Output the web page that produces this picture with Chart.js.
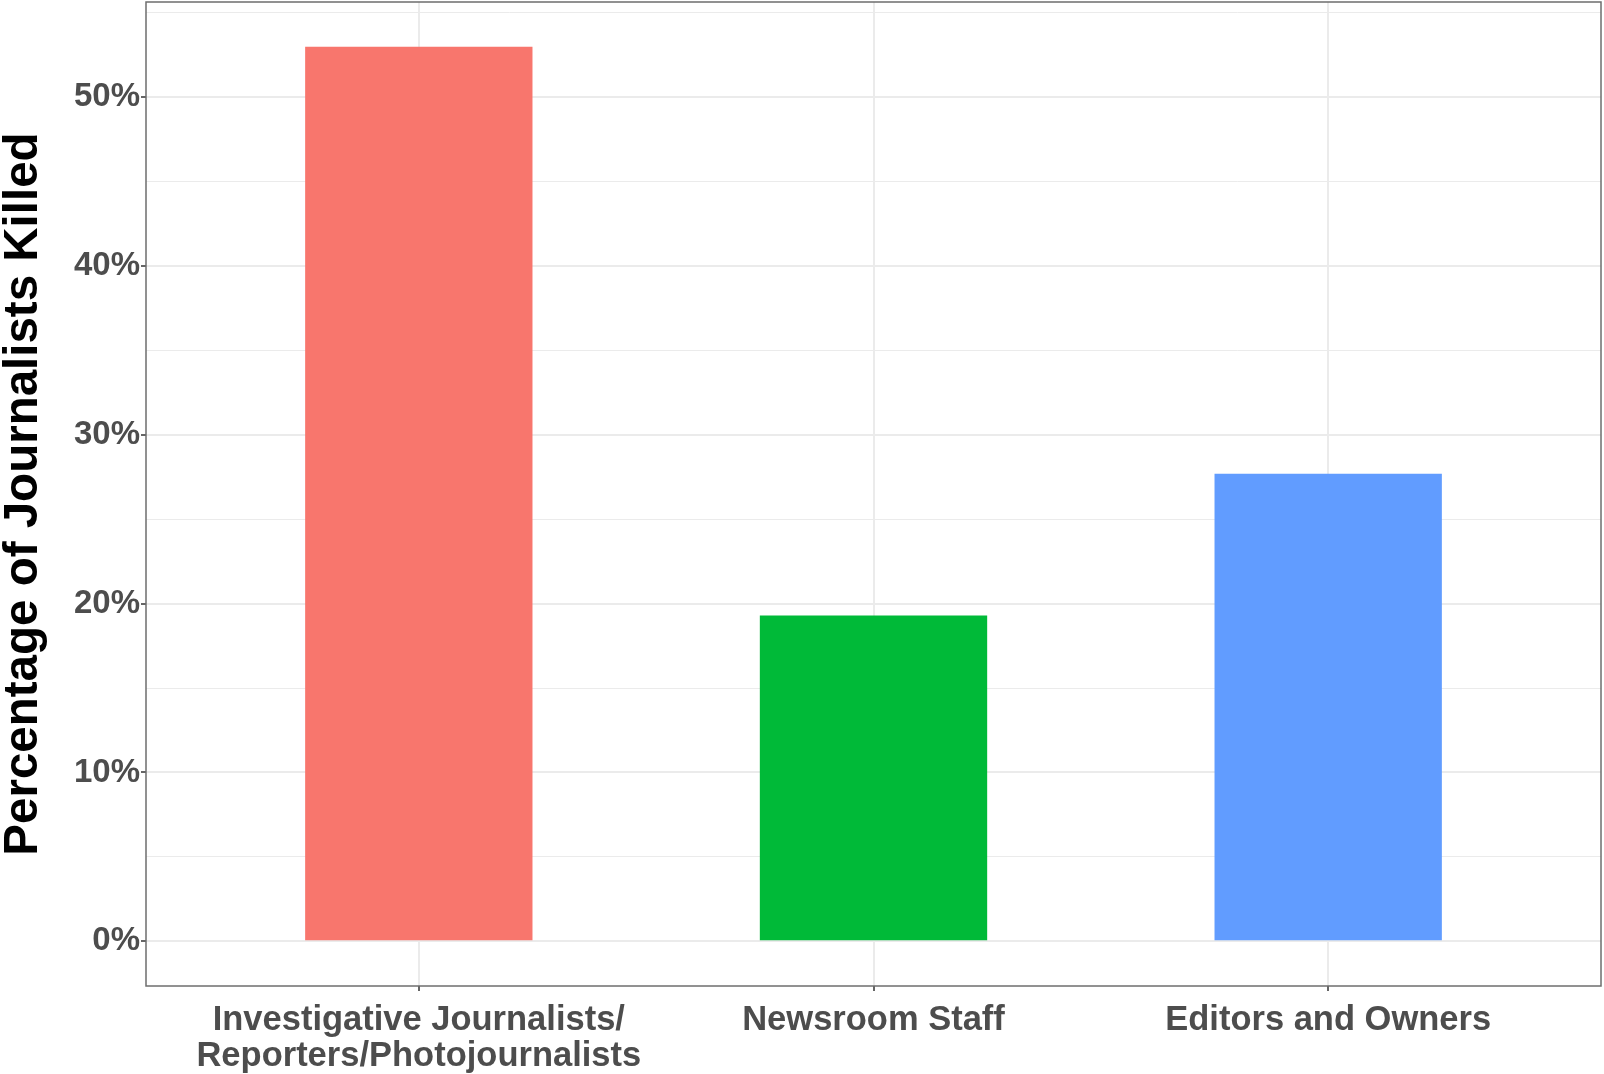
<!DOCTYPE html>
<html>
<head>
<meta charset="utf-8">
<script src="https://cdn.jsdelivr.net/npm/chart.js@4.4.1/dist/chart.umd.min.js"></script>
<style>
  html, body { margin: 0; padding: 0; background: #fff; }
  #wrap { width: 1604px; height: 1074px; }
</style>
</head>
<body>
<div id="wrap"><canvas id="chart" width="1604" height="1074"></canvas></div>
<script>
// data
const categories = [
    ['Investigative Journalists/', 'Reporters/Photojournalists'],
    ['Newsroom Staff'],
    ['Editors and Owners']
];
const percentKilled = [53.0, 19.3, 27.7];
const barColors = ['#F8766D', '#00BA38', '#619CFF'];
const yTicks = [0, 5, 10, 15, 20, 25, 30, 35, 40, 45, 50, 55];
const yTickLabels = ['0%', '', '10%', '', '20%', '', '30%', '', '40%', '', '50%', ''];

const FONT = 'Liberation Sans, Arial, sans-serif';

// ggplot-like panel border on all four sides
const panelBorder = {
    id: 'panelBorder',
    afterDraw(chart) {
        const { ctx, chartArea: a } = chart;
        ctx.save();
        ctx.strokeStyle = '#6e6e6e';
        ctx.lineWidth = 1.5;
        ctx.strokeRect(a.left, a.top, a.right - a.left, a.bottom - a.top);
        ctx.restore();
    }
};

const isMajor = ctx => ctx.tick && ctx.tick.value % 10 === 0;

new Chart(document.getElementById('chart').getContext('2d'), {
    type: 'bar',
    data: {
        datasets: [{
            data: percentKilled.map((v, i) => ({ x: i, y: v })),
            backgroundColor: barColors,
            borderWidth: 0,
            categoryPercentage: 1,
            barPercentage: 0.5
        }]
    },
    options: {
        responsive: false,
        animation: false,
        devicePixelRatio: 1,
        layout: { padding: { top: 2, right: 3, left: 0, bottom: 0 } },
        plugins: { legend: { display: false }, tooltip: { enabled: false } },
        scales: {
            x: {
                type: 'linear',
                min: -0.6,
                max: 2.6,
                offset: false,
                afterBuildTicks: s => { s.ticks = categories.map((c, i) => ({ value: i })); },
                afterFit: s => { s.height = 88; s.paddingLeft = 0; s.paddingRight = 0; },
                border: { display: false },
                grid: { offset: false, color: '#ebebeb', lineWidth: 2, tickColor: '#333', tickWidth: 1.5, tickLength: 5 },
                ticks: {
                    autoSkip: false,
                    maxRotation: 0,
                    padding: 11,
                    color: '#4d4d4d',
                    font: { family: FONT, weight: 'bold', size: 34.5, lineHeight: 1.05 },
                    callback: v => categories[v]
                }
            },
            y: {
                min: -2.65,
                max: 55.65,
                afterBuildTicks: s => { s.ticks = yTicks.map(v => ({ value: v })); },
                afterFit: s => { s.width = 146; s.paddingTop = 0; s.paddingBottom = 0; },
                border: { display: false },
                grid: {
                    color: '#ebebeb',
                    lineWidth: ctx => isMajor(ctx) ? 2 : 1,
                    tickColor: ctx => isMajor(ctx) ? '#333' : 'rgba(0,0,0,0)',
                    tickWidth: 1.5,
                    tickLength: 5
                },
                ticks: {
                    padding: 1,
                    color: '#4d4d4d',
                    font: { family: FONT, weight: 'bold', size: 33 },
                    callback: v => yTickLabels[yTicks.indexOf(v)]
                },
                title: {
                    display: true,
                    text: 'Percentage of Journalists Killed',
                    color: '#000',
                    font: { family: FONT, weight: 'bold', size: 47.5, lineHeight: 1 },
                    padding: 0
                }
            }
        }
    },
    plugins: [panelBorder]
});
</script>
</body>
</html>
